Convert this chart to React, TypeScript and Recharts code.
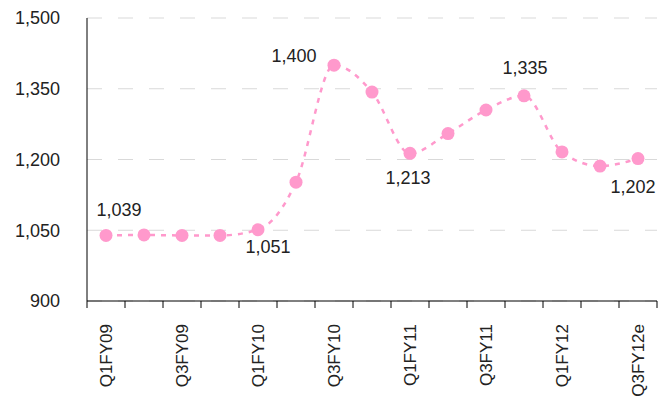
import { LineChart, Line, XAxis, YAxis, CartesianGrid, LabelList } from "recharts"

const categories = [
  "Q1FY09", "Q2FY09", "Q3FY09", "Q4FY09",
  "Q1FY10", "Q2FY10", "Q3FY10", "Q4FY10",
  "Q1FY11", "Q2FY11", "Q3FY11", "Q4FY11",
  "Q1FY12", "Q2FY12", "Q3FY12e",
]
const values = [1039, 1040, 1039, 1039, 1051, 1152, 1400, 1343, 1213, 1255, 1305, 1335, 1216, 1186, 1202]
const yTicks = [900, 1050, 1200, 1350, 1500]

// which points get a value label, and where it sits relative to the dot
const labelOffsets: ({ dx: number; dy: number } | null)[] = [
  { dx: 13, dy: -25 }, null, null, null,
  { dx: 10, dy: 17 }, null, { dx: -40, dy: -9 }, null,
  { dx: -2, dy: 25 }, null, null, { dx: 1, dy: -28 },
  null, null, { dx: -5, dy: 28 },
]

const PINK = "#ff99cc"
const FONT = "'Liberation Sans', Arial, sans-serif"

const data = categories.map((name, i) => ({ x: i + 0.5, name, value: values[i], idx: i }))

const xTicks: number[] = []
for (let i = 0; i <= categories.length * 2; i++) xTicks.push(i / 2)

const fmt = (v: number) => v.toLocaleString("en-US")

const XTick = ({ x, y, payload }: any) => {
  const v = payload.value
  if (Number.isInteger(v)) {
    return <line x1={x} x2={x} y1={y} y2={y + 7} stroke="#000" strokeWidth={1} />
  }
  const i = Math.round(v - 0.5)
  if (i % 2 !== 0) return null
  return (
    <text
      transform={`translate(${x + 6},${y + 23}) rotate(-90)`}
      textAnchor="end"
      fontFamily={FONT}
      fontSize={17}
      fill="#222"
    >
      {categories[i]}
    </text>
  )
}

const ValueLabel = (props: any) => {
  const { x, y, value, index } = props
  const off = labelOffsets[index]
  if (!off) return null
  return (
    <text
      x={x + off.dx}
      y={y + off.dy}
      textAnchor="middle"
      dominantBaseline="central"
      fontFamily={FONT}
      fontSize={18}
      fill="#222"
    >
      {fmt(value)}
    </text>
  )
}

export default function App() {
  return (
    <div style={{ position: "absolute", left: 0, top: 0, background: "#fff" }}>
      <LineChart width={666} height={399} data={data} margin={{ top: 18, right: 9, bottom: 0, left: 0 }}>
        <CartesianGrid vertical={false} stroke="#d9d9d9" strokeDasharray="15 16" />
        <XAxis
          dataKey="x"
          type="number"
          domain={[0, categories.length]}
          ticks={xTicks}
          interval={0}
          tick={<XTick />}
          tickLine={false}
          tickSize={0}
          tickMargin={0}
          height={98}
          axisLine={{ stroke: "#000" }}
        />
        <YAxis
          domain={[900, 1500]}
          ticks={yTicks}
          width={87}
          tickLine={false}
          tickSize={0}
          tickMargin={27}
          tickFormatter={fmt}
          axisLine={{ stroke: "#000" }}
          tick={{ fontFamily: FONT, fontSize: 18, fill: "#222" }}
        />
        <Line
          type="monotone"
          dataKey="value"
          stroke={PINK}
          strokeWidth={2.5}
          strokeDasharray="5 6"
          dot={{ r: 6.5, fill: PINK, stroke: "none" }}
          isAnimationActive={false}
        >
          <LabelList dataKey="value" content={<ValueLabel />} />
        </Line>
      </LineChart>
    </div>
  )
}
